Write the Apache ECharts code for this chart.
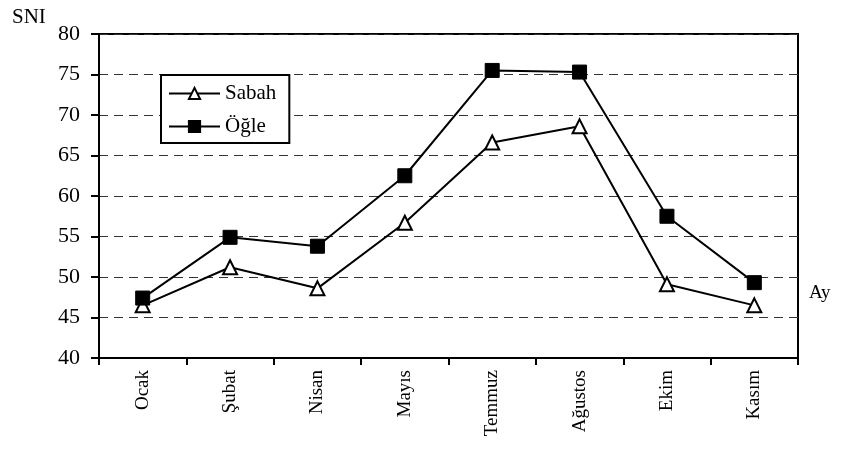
<!DOCTYPE html>
<html>
<head>
<meta charset="utf-8">
<script src="https://cdn.jsdelivr.net/npm/echarts@6/dist/echarts.min.js"></script>
<style>
    html, body { margin: 0; padding: 0; background: #fff; }
    #chart { width: 851px; height: 458px; }
</style>
</head>
<body>
<div id="chart"></div>
<script>
var months = ['Ocak', 'Şubat', 'Nisan', 'Mayıs', 'Temmuz', 'Ağustos', 'Ekim', 'Kasım'];
var sabah = [46.5, 51.2, 48.6, 56.7, 66.6, 68.6, 49.1, 46.5];
var ogle = [47.4, 54.9, 53.8, 62.5, 75.5, 75.3, 57.5, 49.3];
var serif = '"Liberation Serif", "DejaVu Serif", serif';

var myChart = echarts.init(document.getElementById('chart'));
var option = {
    animation: false,
    backgroundColor: '#fff',
    textStyle: { fontFamily: serif, color: '#000' },
    grid: {
        left: 99,
        right: 53,
        top: 34,
        bottom: 100,
        show: true,
        borderColor: '#000',
        borderWidth: 2,
        containLabel: false
    },
    title: [{
        text: 'SNI',
        left: 7,
        top: 2,
        textStyle: { fontFamily: serif, fontSize: 21, fontWeight: 'normal', color: '#000' }
    }, {
        text: 'Ay',
        left: 804,
        top: 279,
        textStyle: { fontFamily: serif, fontSize: 19, fontWeight: 'normal', color: '#000' }
    }],
    legend: {
        orient: 'vertical',
        left: 161,
        top: 75,
        padding: [8, 13, 6, 7],
        itemGap: 12,
        itemWidth: 51,
        itemHeight: 14,
        borderColor: '#000',
        borderWidth: 2,
        backgroundColor: '#fff',
        textStyle: { fontFamily: serif, fontSize: 21, color: '#000' },
        data: ['Sabah', 'Öğle']
    },
    xAxis: {
        type: 'category',
        data: months,
        boundaryGap: true,
        axisLine: { lineStyle: { color: '#000', width: 2 } },
        axisTick: { show: true, length: 7, lineStyle: { color: '#000', width: 2 } },
        axisLabel: {
            rotate: 90,
            margin: 12,
            fontFamily: serif,
            fontSize: 19,
            color: '#000'
        }
    },
    yAxis: {
        type: 'value',
        min: 40,
        max: 80,
        interval: 5,
        axisLine: { show: true, lineStyle: { color: '#000', width: 2 } },
        axisTick: { show: true, inside: false, length: 8, lineStyle: { color: '#000', width: 2 } },
        axisLabel: { fontFamily: serif, fontSize: 22, color: '#000', margin: 19 },
        splitLine: { show: true, lineStyle: { color: '#333', type: [9, 6], width: 1 } }
    },
    series: [{
        name: 'Sabah',
        type: 'line',
        data: sabah,
        symbol: 'triangle',
        symbolSize: 14,
        lineStyle: { color: '#000', width: 2 },
        itemStyle: { color: '#fff', borderColor: '#000', borderWidth: 2 },
        z: 3
    }, {
        name: 'Öğle',
        type: 'line',
        data: ogle,
        symbol: 'rect',
        symbolSize: 14,
        lineStyle: { color: '#000', width: 2 },
        itemStyle: { color: '#000', borderColor: '#000', borderWidth: 1 },
        z: 4
    }]
};
myChart.setOption(option);
</script>
</body>
</html>
